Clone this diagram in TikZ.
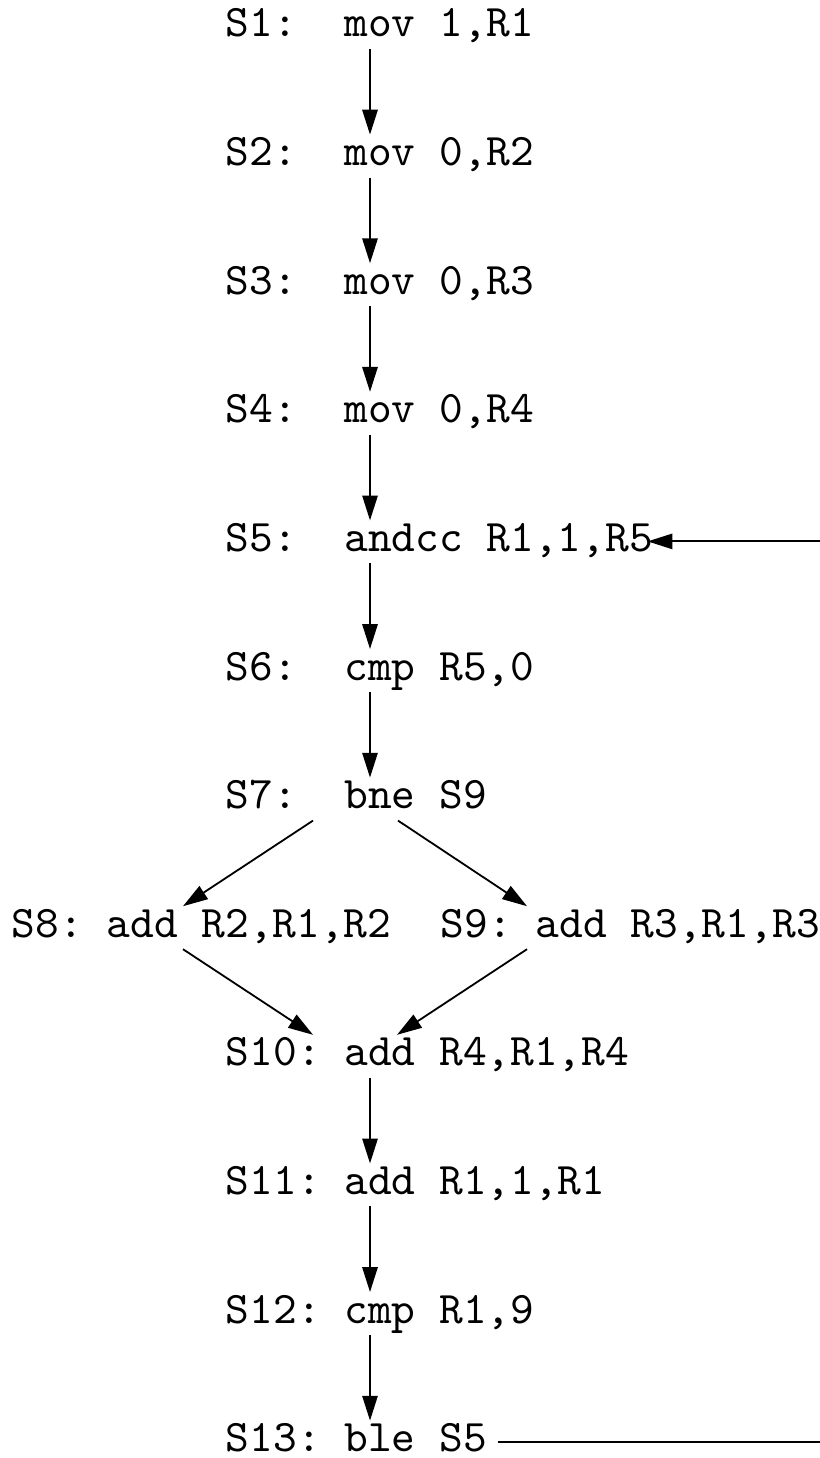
\documentclass[tikz,border=0pt]{standalone}
\usepackage{fontspec}
\usetikzlibrary{arrows.meta,calc}
\begin{document}
\frenchspacing
\begin{tikzpicture}[x=0.0077760cm, y=-0.0077760cm,
  stmt/.style={anchor=base west, inner sep=0pt, font=\ttfamily},
  arr/.style={-{Triangle[length=5.5pt,width=3.4pt]}, line width=0.4pt}]
\useasboundingbox (0,0) rectangle (820,1458);
% statements
\node[stmt] (s1)  at (225,37)     {S1:\ \ mov 1,R1};
\node[stmt] (s2)  at (225,165.6)  {S2:\ \ mov 0,R2};
\node[stmt] (s3)  at (225,294.2)  {S3:\ \ mov 0,R3};
\node[stmt] (s4)  at (225,422.8)  {S4:\ \ mov 0,R4};
\node[stmt] (s5)  at (225,551.4)  {S5:\ \ andcc R1,1,R5};
\node[stmt] (s6)  at (225,680)    {S6:\ \ cmp R5,0};
\node[stmt] (s7)  at (225,808.6)  {S7:\ \ bne S9};
\node[stmt] (s8)  at (11,937.2)   {S8:\ add R2,R1,R2};
\node[stmt] (s9)  at (440,937.2)  {S9:\ add R3,R1,R3};
\node[stmt] (s10) at (225,1065.8) {S10:\ add R4,R1,R4};
\node[stmt] (s11) at (225,1194.4) {S11:\ add R1,1,R1};
\node[stmt] (s12) at (225,1323)   {S12:\ cmp R1,9};
\node[stmt] (s13) at (225,1451.6) {S13:\ ble S5};
% ports
\foreach \n in {s1,s2,s3,s4,s5,s6,s10,s11,s12}
  \coordinate (\n-out) at ($(\n.base west)+(145,12)$);
\foreach \n in {s2,s3,s4,s5,s6,s7,s11,s12,s13}
  \coordinate (\n-in) at ($(\n.base west)+(145,-31)$);
\coordinate (s7-outl) at ($(s7.base west)+(88,12)$);
\coordinate (s7-outr) at ($(s7.base west)+(173,12)$);
\coordinate (s8-in)   at ($(s8.base west)+(172,-31)$);
\coordinate (s8-out)  at ($(s8.base west)+(172,12)$);
\coordinate (s9-in)   at ($(s9.base west)+(87,-31)$);
\coordinate (s9-out)  at ($(s9.base west)+(87,12)$);
\coordinate (s10-inl) at ($(s10.base west)+(88,-31)$);
\coordinate (s10-inr) at ($(s10.base west)+(172,-31)$);
\coordinate (s13-e)   at ($(s13.base east)+(10,-10)$);
\coordinate (s5-e)    at ($(s5.base east)+(-6,-10)$);
\coordinate (rx)      at (822,0);
% edges
\draw[arr] (s1-out) -- (s2-in);
\draw[arr] (s2-out) -- (s3-in);
\draw[arr] (s3-out) -- (s4-in);
\draw[arr] (s4-out) -- (s5-in);
\draw[arr] (s5-out) -- (s6-in);
\draw[arr] (s6-out) -- (s7-in);
\draw[arr] (s7-outl) -- (s8-in);
\draw[arr] (s7-outr) -- (s9-in);
\draw[arr] (s8-out) -- (s10-inl);
\draw[arr] (s9-out) -- (s10-inr);
\draw[arr] (s10-out) -- (s11-in);
\draw[arr] (s11-out) -- (s12-in);
\draw[arr] (s12-out) -- (s13-in);
\draw[arr] (s13-e) -- (s13-e -| rx) -- (s5-e -| rx) -- (s5-e);
\end{tikzpicture}
\end{document}
